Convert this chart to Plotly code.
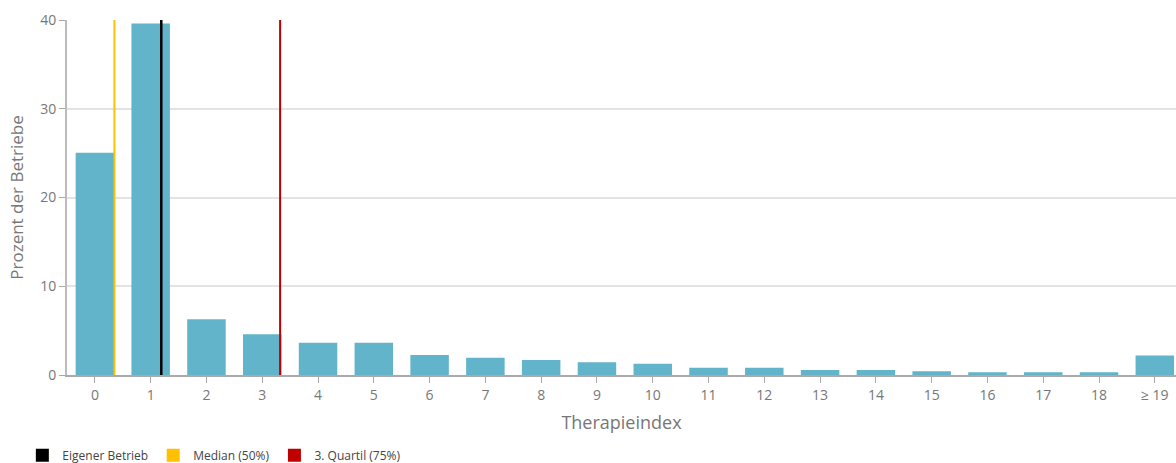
import plotly.graph_objects as go

categories = ["0", "1", "2", "3", "4", "5", "6", "7", "8", "9", "10",
              "11", "12", "13", "14", "15", "16", "17", "18", "≥ 19"]
percent = [25.05, 39.6, 6.27, 4.58, 3.64, 3.64, 2.25, 1.95, 1.69, 1.43, 1.28,
           0.83, 0.83, 0.56, 0.56, 0.41, 0.3, 0.3, 0.3, 2.2]

ref_names = ["Eigener Betrieb", "Median (50%)", "3. Quartil (75%)"]
ref_positions = [1.19, 0.35, 3.32]
ref_colors = ["#000000", "#FFC000", "#C00000"]
ref_widths = [2.5, 2, 2]

positions = list(range(len(categories)))

fig = go.Figure()
fig.add_trace(go.Bar(x=positions, y=percent, marker_color="#62B4CB",
                     marker_line_width=0, showlegend=False, hoverinfo="skip"))

for name, pos, col, w in zip(ref_names, ref_positions, ref_colors, ref_widths):
    fig.add_trace(go.Scatter(x=[pos, pos], y=[0, 40], mode="lines",
                             line=dict(color=col, width=w), showlegend=False))
    fig.add_trace(go.Scatter(x=[None], y=[None], mode="markers", name=name,
                             marker=dict(symbol="square", size=13, color=col)))

fig.update_layout(
    width=1176, height=463,
    margin=dict(l=67, r=0, t=20, b=88),
    paper_bgcolor="white", plot_bgcolor="white",
    font=dict(family="Open Sans", color="#666666", size=12),
    bargap=0.31,
    legend=dict(orientation="h", xref="container", yref="container",
                x=0.019, y=0.017, xanchor="left", yanchor="middle",
                font=dict(size=12, color="#444444"), itemwidth=30,
                tracegroupgap=0),
)
fig.update_xaxes(range=[-0.5, 19.38], tickvals=positions, ticktext=categories,
                 showline=True, linecolor="#aaaaaa", linewidth=2,
                 ticks="outside", ticklen=6, tickcolor="#aaaaaa",
                 tickfont=dict(size=14, color="#777777"), showgrid=False,
                 zeroline=False,
                 title=dict(text="Therapieindex", font=dict(size=18, color="#777777"),
                            standoff=14))
fig.update_yaxes(range=[0, 40], tickvals=[0, 10, 20, 30, 40],
                 showline=True, linecolor="#bbbbbb", linewidth=2,
                 ticks="outside", ticklen=6, tickcolor="#aaaaaa",
                 tickfont=dict(size=14, color="#777777"),
                 showgrid=True, gridcolor="#e3e3e3", gridwidth=1.5, zeroline=False,
                 title=dict(text="Prozent der Betriebe", font=dict(size=17, color="#777777"),
                            standoff=12))

fig.write_html("out.html", config={"displayModeBar": False},
               post_script="document.body.style.margin='0';")
